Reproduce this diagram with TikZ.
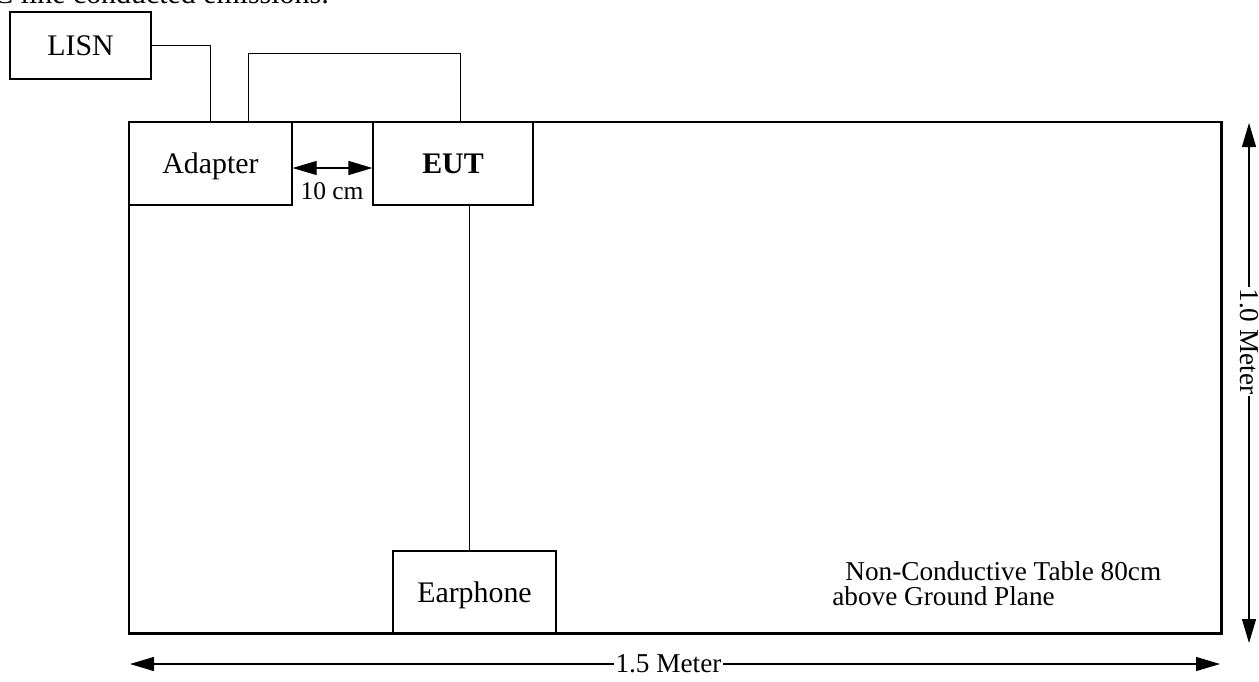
\documentclass[tikz,border=0pt]{standalone}
\usepackage{fontspec}
\setmainfont{Liberation Serif}
\usetikzlibrary{arrows.meta,calc,positioning}

\begin{document}
\begin{tikzpicture}[
  box/.style={draw,line width=0.7pt,inner sep=0pt,text depth=0pt,font=\fontsize{17}{20}\selectfont},
  wire/.style={draw,line width=0.5pt},
  dim/.style={line width=0.7pt,{Triangle[length=0.48cm,width=0.28cm]}-{Triangle[length=0.48cm,width=0.28cm]}},
  lbl/.style={inner sep=1pt,font=\fontsize{15.5}{18}\selectfont}
]
\useasboundingbox (0cm,0cm) rectangle (25.18cm,-13.62cm);
\node[anchor=base west,inner sep=0pt,font=\fontsize{17}{20}\selectfont] (title) at (-0.14cm,-0.06cm) {C line conducted emissions:};
\node[box,minimum width=2.82cm,minimum height=1.34cm] (lisn) at (1.61cm,-0.91cm) {LISN};
\node[box,minimum width=3.26cm,minimum height=1.66cm] (adapter) at (4.21cm,-3.27cm) {Adapter};
\node[box,minimum width=3.2cm,minimum height=1.66cm,font=\fontsize{17}{20}\selectfont\bfseries] (eut) at (9.06cm,-3.27cm) {EUT};
\node[box,minimum width=3.26cm,minimum height=1.64cm] (earphone) at (9.49cm,-11.84cm) {Earphone};
\node[draw,line width=1.7pt,minimum width=21.84cm,minimum height=10.22cm,inner sep=0pt] (table) at (13.5cm,-7.55cm) {};
% cables
\draw[wire] (lisn.east) -| (adapter.north);
\draw[wire] ($(adapter.north)+(0.75,0)$) -- ++(0,1.36) -| ($(eut.north)+(0.14,0)$);
\draw[wire] ($(eut.south)+(0.32,0)$) coordinate (c1) -- (c1 |- earphone.north);
% distances
\draw[dim] ($(adapter.east)+(0,-0.09)$) -- ($(eut.west)+(0,-0.09)$);
\node[lbl,font=\fontsize{14.5}{17}\selectfont] (gap) at (6.64cm,-3.82cm) {10 cm};
\coordinate (vtop) at (24.98cm,-2.46cm);
\coordinate (vbot) at (24.98cm,-12.86cm);
\draw[dim] (vtop) -- node[lbl,fill=white,rotate=-90,pos=0.42] (height) {1.0 Meter} (vbot);
\coordinate (hleft) at (2.6cm,-13.28cm);
\coordinate (hright) at (24.4cm,-13.28cm);
\draw[dim] (hleft) -- node[lbl,fill=white,pos=0.494] (width) {1.5 Meter} (hright);
\node[lbl,anchor=base west,inner sep=0pt] (note1) at (16.9cm,-11.6cm) {Non-Conductive Table 80cm};
\node[lbl,anchor=base west,inner sep=0pt] (note2) at (16.64cm,-12.1cm) {above Ground Plane};
\end{tikzpicture}
\end{document}
